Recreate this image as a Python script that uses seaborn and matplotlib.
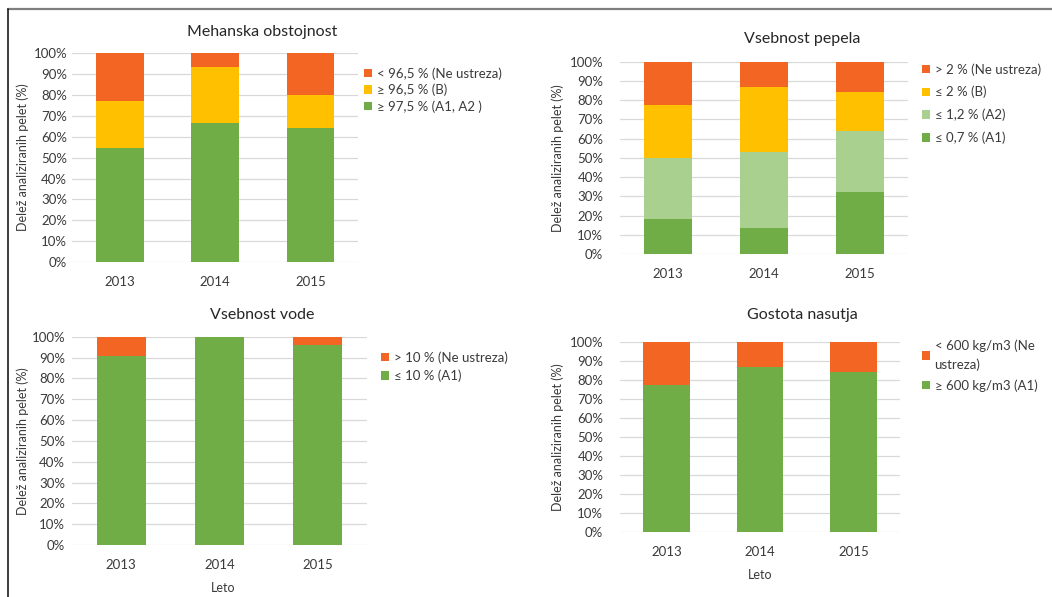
import numpy as np
import pandas as pd
import matplotlib
matplotlib.use("Agg")
import matplotlib.pyplot as plt
from matplotlib.patches import Patch
from matplotlib.lines import Line2D
import seaborn as sns

# ---- data (share of analysed pellets, %) ----
years = ["2013", "2014", "2015"]

# Mehanska obstojnost
mech_a = [54.5, 66.7, 64.0]
mech_b = [22.7, 26.6, 16.0]
mech_ne = [22.8, 6.7, 20.0]
mech_labels = ["< 96,5 % (Ne ustreza)", "≥ 96,5 % (B)", "≥ 97,5 % (A1, A2 )"]

# Vsebnost pepela
ash_a1 = [18.2, 13.3, 32.0]
ash_a2 = [31.8, 40.0, 32.0]
ash_b = [27.3, 33.4, 20.0]
ash_ne = [22.7, 13.3, 16.0]
ash_labels = ["> 2 % (Ne ustreza)", "≤ 2 % (B)", "≤ 1,2 % (A2)", "≤ 0,7 % (A1)"]

# Vsebnost vode
water_a1 = [90.9, 100.0, 96.0]
water_ne = [9.1, 0.0, 4.0]
water_labels = ["> 10 % (Ne ustreza)", "≤ 10 % (A1)"]

# Gostota nasutja
dens_a1 = [77.3, 86.7, 84.0]
dens_ne = [22.7, 13.3, 16.0]
dens_labels = ["< 600 kg/m3 (Ne\nustreza)", "≥ 600 kg/m3 (A1)"]

ORANGE = "#F26522"
YELLOW = "#FFC000"
LIGHT = "#A9D08E"
GREEN = "#70AD47"

W, H = 1052, 597
sns.set_theme(style="white")
plt.rcParams["font.family"] = ["Lato", "DejaVu Sans"]
TXT = "#3A3A3A"

fig = plt.figure(figsize=(W / 100, H / 100), dpi=100)


def fx(px):
    return px / W


def fy(py):
    return 1 - py / H


def stacked(ax, layers, colors, ypad):
    # layers bottom-up; draw cumulative heights from the tallest down
    cum = np.cumsum(np.array(layers), axis=0)
    for i in reversed(range(len(layers))):
        df = pd.DataFrame({"year": years, "v": cum[i]})
        sns.barplot(data=df, x="year", y="v", order=years, color=colors[i],
                    saturation=1, width=0.5, errorbar=None, linewidth=0,
                    edgecolor="none", ax=ax, zorder=3)
    ax.set_xlim(-0.5, 2.5)
    ax.set_ylim(0, 100)
    ax.set_yticks(np.arange(0, 101, 10))
    ax.set_yticklabels([f"{t}%" for t in range(0, 101, 10)])
    ax.yaxis.grid(True, color="#D9D9D9", lw=0.9, zorder=0)
    ax.set_axisbelow(True)
    for s in ax.spines.values():
        s.set_visible(False)
    ax.tick_params(axis="x", length=0, pad=10, labelsize=9.5, labelcolor=TXT)
    ax.tick_params(axis="y", length=0, pad=ypad, labelsize=9.5, labelcolor=TXT)
    ax.set_xlabel("")
    ax.set_ylabel("")


def legend(ax, colors, labels, x, y, spacing, linespacing=1.2):
    handles = [Patch(facecolor=c, edgecolor="none") for c in reversed(colors)]
    leg = ax.legend(handles, labels, loc="upper left",
                    bbox_to_anchor=(fx(x), fy(y)), bbox_transform=fig.transFigure,
                    frameon=False, fontsize=9.5, handlelength=0.6,
                    handleheight=0.6, handletextpad=0.35, labelspacing=spacing,
                    borderpad=0, borderaxespad=0, labelcolor=TXT)
    for t in leg.get_texts():
        t.set_linespacing(linespacing)


# panel axes placed by pixel extents
def make_ax(x0, x1, y_top, y_bot):
    return fig.add_axes([fx(x0), fy(y_bot), fx(x1 - x0), (y_bot - y_top) / H])


ax1 = make_ax(72, 358, 53.3, 262)
stacked(ax1, [mech_a, mech_b, mech_ne], [GREEN, YELLOW, ORANGE], 3.6)
legend(ax1, [GREEN, YELLOW, ORANGE], mech_labels, 364, 67, 0.3)

ax2 = make_ax(620, 908, 61.7, 254)
stacked(ax2, [ash_a1, ash_a2, ash_b, ash_ne], [GREEN, LIGHT, YELLOW, ORANGE], 12)
legend(ax2, [GREEN, LIGHT, YELLOW, ORANGE], ash_labels, 922, 63, 0.78)

ax3 = make_ax(72, 367, 336.7, 545)
stacked(ax3, [water_a1, water_ne], [GREEN, ORANGE], 5)
legend(ax3, [GREEN, ORANGE], water_labels, 381, 351, 0.45)

ax4 = make_ax(620, 900, 341.7, 531.7)
stacked(ax4, [dens_a1, dens_ne], [GREEN, ORANGE], 12)
legend(ax4, [GREEN, ORANGE], dens_labels, 922, 339, 0.6, linespacing=1.7)

# titles
for x, y, t in [(262, 32, "Mehanska obstojnost"), (802, 39, "Vsebnost pepela"),
                (262, 315, "Vsebnost vode"), (802, 315, "Gostota nasutja")]:
    fig.text(fx(x), fy(y), t, ha="center", va="center", fontsize=11.5,
             color="#262626")

# y-axis titles
ylab = "Delež analiziranih pelet (%)"
for x, y in [(23, 157), (558, 158), (23, 441), (558, 437)]:
    fig.text(fx(x), fy(y), ylab, rotation=90, ha="center", va="center",
             fontsize=9, color=TXT)

# x-axis titles
for x, y in [(223, 588), (760, 575)]:
    fig.text(fx(x), fy(y), "Leto", ha="center", va="center", fontsize=9,
             color=TXT)

# frame lines along top and left edge
fig.add_artist(Line2D([fx(8), 1], [fy(9), fy(9)], color="#7F7F7F", lw=1.6,
                      transform=fig.transFigure))
fig.add_artist(Line2D([fx(8), fx(8)], [fy(9), 0], color="#1A1A1A", lw=1.2,
                      transform=fig.transFigure))

fig.savefig("out.png", dpi=100, facecolor="white")
